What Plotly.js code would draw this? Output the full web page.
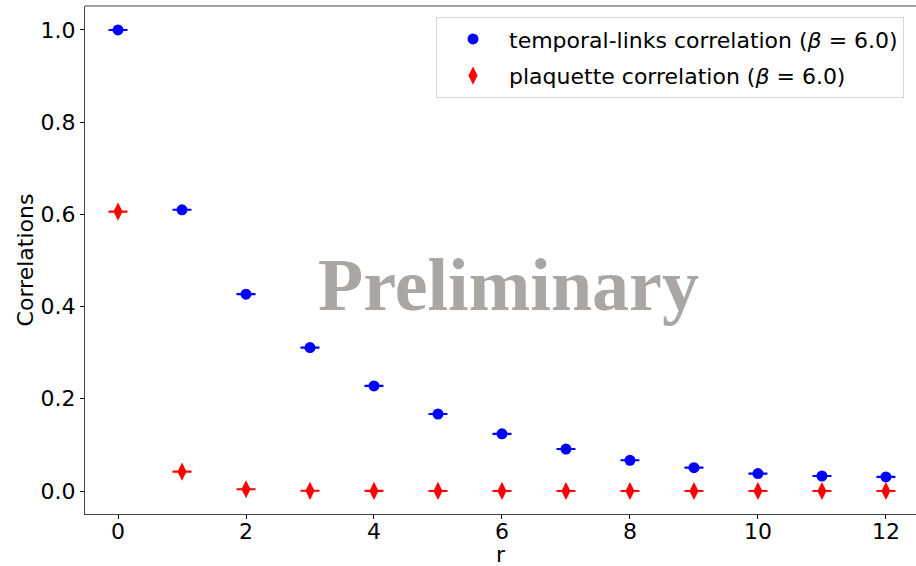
<!DOCTYPE html>
<html>
<head>
<meta charset="utf-8">
<script src="https://cdn.plot.ly/plotly-3.0.1.min.js"></script>
<style>
  html, body { margin: 0; padding: 0; background: #fff; }
  #chart { width: 916px; height: 566px; }
</style>
</head>
<body>
<div id="chart"></div>
<script>
// separation r between operators
const rValues = [0, 1, 2, 3, 4, 5, 6, 7, 8, 9, 10, 11, 12];

// temporal-links correlation and its statistical error
const temporalCorr = [1.0, 0.610, 0.427, 0.311, 0.228, 0.167, 0.124, 0.091, 0.0666, 0.0506, 0.0378, 0.0325, 0.0305];
const temporalErr  = [0.001, 0.001, 0.001, 0.001, 0.001, 0.001, 0.001, 0.001, 0.001, 0.001, 0.001, 0.001, 0.001];

// plaquette correlation and its statistical error
const plaquetteCorr = [0.606, 0.042, 0.0038, 0.0004, 0.0002, 0.0001, 0.0001, 0.0, 0.0, 0.0, 0.0, 0.0, 0.0];
const plaquetteErr  = [0.001, 0.001, 0.001, 0.001, 0.001, 0.001, 0.001, 0.001, 0.001, 0.001, 0.001, 0.001, 0.001];

const xTicks = [0, 2, 4, 6, 8, 10, 12];
const yTicks = [0.0, 0.2, 0.4, 0.6, 0.8, 1.0];

const baseFont = 'DejaVu Sans, sans-serif';
const axisColor = '#444';

const traces = [
  {
    x: rValues, y: temporalCorr,
    type: 'scatter', mode: 'markers',
    name: 'temporal-links correlation (<i>β</i> = 6.0)',
    legendgroup: 'a',
    marker: { color: '#0000ff', symbol: 'circle', size: 11, line: { width: 0 } },
    error_y: { type: 'data', array: temporalErr, visible: true, color: '#0000ff', thickness: 1.2, width: 9.5 }
  },
  {
    x: rValues, y: plaquetteCorr,
    type: 'scatter', mode: 'markers',
    name: 'plaquette correlation (<i>β</i> = 6.0)',
    legendgroup: 'b',
    marker: { color: '#ff0000', symbol: 'diamond-tall', size: 13, line: { width: 0 } },
    error_y: { type: 'data', array: plaquetteErr, visible: true, color: '#ff0000', thickness: 1.2, width: 9.5 }
  }
];

const layout = {
  width: 916, height: 566,
  margin: { l: 85, r: 0, t: 6, b: 52 },
  paper_bgcolor: '#fff', plot_bgcolor: '#fff',
  font: { family: baseFont, size: 22, color: '#000' },
  showlegend: true,
  xaxis: {
    range: [-0.516, 12.47],
    tickvals: xTicks, ticktext: xTicks.map(String),
    ticks: 'outside', ticklen: 4, tickwidth: 1, tickcolor: '#000',
    ticklabelstandoff: -7,
    showline: true, linecolor: axisColor, linewidth: 1.2,
    showgrid: false, zeroline: false,
    tickfont: { family: baseFont, size: 22, color: '#000' }
  },
  yaxis: {
    range: [-0.0499, 1.052],
    tickvals: yTicks, ticktext: yTicks.map(v => v.toFixed(1)),
    ticks: 'outside', ticklen: 4, tickwidth: 1, tickcolor: '#000',
    showline: true, linecolor: axisColor, linewidth: 1.2,
    showgrid: false, zeroline: false,
    tickfont: { family: baseFont, size: 22, color: '#000' },
    title: { text: 'Correlations', font: { family: baseFont, size: 22, color: '#000' }, standoff: 0 }
  },
  legend: {
    x: 0.4224, y: 0.978, xanchor: 'left', yanchor: 'top',
    bgcolor: 'rgba(255,255,255,0.8)',
    bordercolor: '#d6d6d6', borderwidth: 1,
    font: { family: baseFont, size: 22, color: '#000' },
    traceorder: 'grouped', tracegroupgap: 5,
    itemwidth: 62
  },
  shapes: [
    // top frame line of the axes box
    { type: 'line', xref: 'paper', yref: 'paper', x0: 0, x1: 1, y0: 1, y1: 1,
      line: { color: axisColor, width: 1.2 } }
  ],
  annotations: [
    // x-axis label, placed below the tick labels
    { text: 'r', xref: 'paper', yref: 'paper', x: 0.5, y: 0,
      xanchor: 'center', yanchor: 'top', yshift: -26, showarrow: false,
      font: { family: baseFont, size: 22, color: '#000' } },
    { text: '<b>Preliminary</b>', xref: 'paper', yref: 'paper',
      x: (508 - 85) / 831, y: (514 - 285) / 508, xanchor: 'center', yanchor: 'middle',
      showarrow: false,
      font: { family: 'Liberation Serif, serif', size: 74, color: '#aaa6a4' } }
  ]
};

Plotly.newPlot('chart', traces, layout, { displayModeBar: false, staticPlot: true });
</script>
</body>
</html>
